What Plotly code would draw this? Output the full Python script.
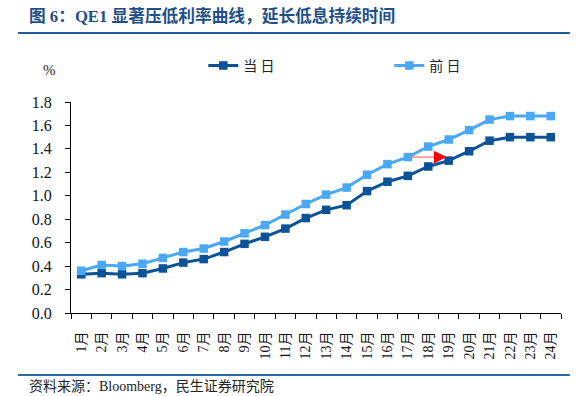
import plotly.graph_objects as go

months = [f"{i}月" for i in range(1, 25)]
dangri = [0.33, 0.34, 0.33, 0.34, 0.38, 0.43, 0.46, 0.52, 0.59, 0.65, 0.72, 0.81,
          0.88, 0.92, 1.04, 1.12, 1.17, 1.25, 1.30, 1.38, 1.47, 1.50, 1.50, 1.50]
qianri = [0.36, 0.41, 0.40, 0.42, 0.47, 0.52, 0.55, 0.61, 0.68, 0.75, 0.84, 0.93,
          1.01, 1.07, 1.18, 1.27, 1.33, 1.42, 1.48, 1.56, 1.65, 1.68, 1.68, 1.68]
y_ticks = [0.0, 0.2, 0.4, 0.6, 0.8, 1.0, 1.2, 1.4, 1.6, 1.8]
y_ticktext = [f"{v:.1f}" for v in y_ticks]

title_text = "图 6：QE1 显著压低利率曲线，延长低息持续时间"
source_text = "资料来源：Bloomberg，民生证券研究院"

DARK = "#0b5396"
LIGHT = "#4aa8f5"
SERIF = "Liberation Serif, Noto Sans CJK SC, serif"

fig = go.Figure()
fig.add_trace(go.Scatter(
    x=months, y=dangri, name="当 日", mode="lines+markers",
    line=dict(color=DARK, width=3), marker=dict(symbol="square", size=8.5, color=DARK)))
fig.add_trace(go.Scatter(
    x=months, y=qianri, name="前 日", mode="lines+markers",
    line=dict(color=LIGHT, width=3), marker=dict(symbol="square", size=8.5, color=LIGHT)))

# arrow from 17月 前日 point, horizontally right
arr_start = 16
arr_y = qianri[arr_start]
fig.add_shape(type="line", xref="x", yref="y", x0=arr_start + 0.2, x1=17.5,
              y0=arr_y, y1=arr_y, line=dict(color="#ff8a8a", width=1.5))
fig.add_annotation(x=17.9, y=arr_y, ax=17.4, ay=arr_y, xref="x", yref="y",
                   axref="x", ayref="y", text="", showarrow=True,
                   arrowhead=2, arrowsize=1.6, arrowwidth=1.6, arrowcolor="#ff0000")

# title and decorations
fig.add_annotation(x=-0.09, y=1.408, xref="paper", yref="paper", xanchor="left",
                   yanchor="middle", showarrow=False, text=f"<b>{title_text}</b>",
                   font=dict(family="Liberation Serif, Noto Sans CJK SC", size=16.7, color="#1f4f8a"))
fig.add_shape(type="line", xref="paper", yref="paper", x0=-0.108, x1=1.018,
              y0=1.327, y1=1.327, line=dict(color="#1f5a96", width=2))
fig.add_shape(type="line", xref="paper", yref="paper", x0=-0.108, x1=1.018,
              y0=-0.294, y1=-0.294, line=dict(color="#2a6aa5", width=2))
fig.add_annotation(x=-0.09, y=-0.348, xref="paper", yref="paper", xanchor="left",
                   yanchor="middle", showarrow=False, text=source_text,
                   font=dict(family=SERIF, size=14, color="#222"))
fig.add_annotation(x=-0.043, y=1.152, xref="paper", yref="paper", xanchor="center",
                   yanchor="middle", showarrow=False, text="%",
                   font=dict(family=SERIF, size=15, color="#222"))

fig.update_layout(
    width=585, height=396,
    margin=dict(l=71, r=24, t=102, b=83, autoexpand=False),
    paper_bgcolor="white", plot_bgcolor="white",
    font=dict(family=SERIF, color="#111"),
    showlegend=True,
    legend=dict(orientation="h", x=0.27, y=1.171, xanchor="left", yanchor="middle",
                entrywidth=141, entrywidthmode="pixels",
                font=dict(family="Noto Sans CJK SC", size=14, color="#222"),
                bgcolor="rgba(0,0,0,0)"),
    xaxis=dict(type="category", range=[-0.5, len(months) - 0.5], autorange=False,
               showgrid=False, showline=True, linecolor="black",
               linewidth=1, ticks="outside", ticklen=5, tickcolor="black",
               tickson="boundaries", tickangle=-90, ticklabelstandoff=12,
               automargin=False,
               tickfont=dict(family=SERIF, size=14, color="#111"), fixedrange=True),
    yaxis=dict(range=[0, 1.8], showgrid=False, showline=True, linecolor="black",
               linewidth=1, ticks="outside", ticklen=5, tickcolor="black",
               tickvals=y_ticks, ticktext=y_ticktext, ticklabelstandoff=10,
               automargin=False, fixedrange=True,
               tickfont=dict(family=SERIF, size=16, color="#111"), zeroline=False),
)

fig.write_html("out.html", config={"displayModeBar": False},
               post_script="document.body.style.margin='0';")
